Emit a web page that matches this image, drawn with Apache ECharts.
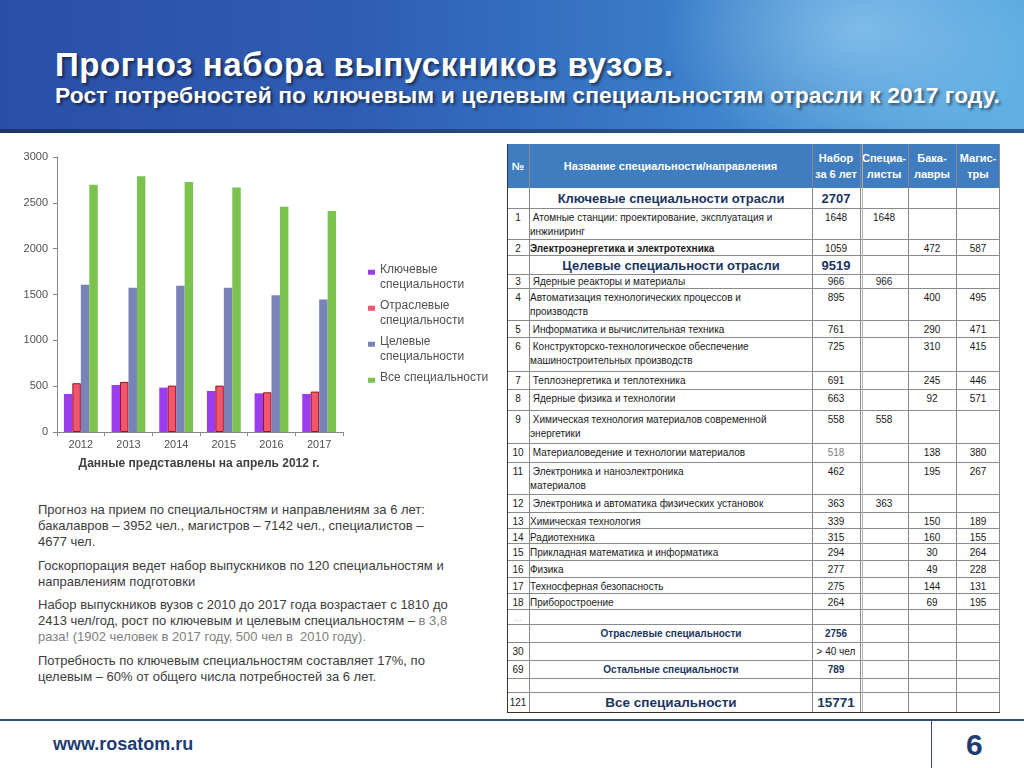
<!DOCTYPE html>
<html><head><meta charset="utf-8">
<script src="https://cdn.jsdelivr.net/npm/echarts@6/dist/echarts.min.js"></script>
<style>
html,body{margin:0;padding:0;width:1024px;height:768px;overflow:hidden;background:#fff;font-family:"Liberation Sans",Arial,sans-serif;}
#header{position:absolute;left:0;top:0;width:1024px;height:133px;
 background:
  radial-gradient(ellipse 260px 170px at 860px 30px, rgba(170,215,245,0.55), rgba(170,215,245,0) 75%),
  radial-gradient(ellipse 200px 160px at 1010px 120px, rgba(120,190,235,0.35), rgba(120,190,235,0) 75%),
  linear-gradient(90deg,#2a4fa6 0%,#2f5db3 35%,#3a7cc8 65%,#4b9ad8 85%,#56a9e0 100%);}
#hbar{position:absolute;left:0;top:129px;width:1024px;height:4px;background:linear-gradient(90deg,#1b3567,#244a80,#2a5a8e);}
#title{position:absolute;left:55px;top:46px;color:#fff;font-weight:bold;font-size:33px;letter-spacing:0.6px;white-space:nowrap;text-shadow:2px 2px 3px rgba(0,0,0,0.55);}
#subtitle{position:absolute;left:55px;top:82px;color:#fff;font-weight:bold;font-size:22.8px;letter-spacing:0.1px;white-space:nowrap;text-shadow:2px 2px 3px rgba(0,0,0,0.55);}
#chart{position:absolute;left:0;top:140px;width:500px;height:340px;}
#notes{position:absolute;left:38px;top:502px;width:430px;font-size:13px;line-height:16px;color:#3c3c3c;}
#notes p{margin:0 0 7.5px 0;white-space:nowrap;}
.grey{color:#808080;}
#tbl{position:absolute;left:0;top:0;}
.row{position:absolute;left:507px;width:493px;border-bottom:1px solid #8a8a8a;box-sizing:border-box;}
.cell{position:absolute;top:0;height:100%;box-sizing:border-box;font-size:10px;line-height:14px;padding-top:2px;color:#1a1a1a;white-space:pre-wrap;overflow:visible;}
.vline{position:absolute;width:1px;background:#8a8a8a;}
#thead{position:absolute;left:507px;top:144px;width:493px;height:44px;background:#3f7dc0;}
.hcell{position:absolute;top:0;height:44px;display:flex;align-items:center;justify-content:center;text-align:center;color:#fff;font-weight:bold;font-size:11px;line-height:16px;}
#footline{position:absolute;left:0;top:719px;width:1024px;height:2px;background:#2f4f72;}
#footv{position:absolute;left:931px;top:720px;width:1px;height:48px;background:#2f4f72;}
#site{position:absolute;left:53px;top:734px;font-size:18px;font-weight:bold;color:#1f3c73;}
#page{position:absolute;left:966px;top:728px;font-size:30px;font-weight:bold;color:#1f3c73;}
</style></head>
<body>
<div id="header"></div><div id="hbar"></div>
<div id="title">Прогноз набора выпускников вузов.</div>
<div id="subtitle">Рост потребностей по ключевым и целевым специальностям отрасли к 2017 году.</div>
<div id="chart"></div>
<div id="notes">
<p>Прогноз на прием по специальностям и направлениям за 6 лет:<br>бакалавров – 3952 чел., магистров – 7142 чел., специалистов –<br>4677 чел.</p>
<p>Госкорпорация ведет набор выпускников по 120 специальностям и<br>направлениям подготовки</p>
<p>Набор выпускников вузов с 2010 до 2017 года возрастает с 1810 до<br>2413 чел/год, рост по ключевым и целевым специальностям – <span class="grey">в 3,8<br>раза! (1902 человек в 2017 году, 500 чел в &nbsp;2010 году).</span></p>
<p>Потребность по ключевым специальностям составляет 17%, по<br>целевым – 60% от общего числа потребностей за 6 лет.</p>
</div>
<div id="tbl"></div>
<div id="footline"></div><div id="footv"></div>
<div id="site">www.rosatom.ru</div>
<div id="page">6</div>
<script>
// ---------- chart data ----------
const years = ['2012', '2013', '2014', '2015', '2016', '2017'];
const keySpec = [415, 513, 484, 448, 422, 415];
const branchSpec = [532, 546, 506, 506, 433, 441];
const targetSpec = [1606, 1573, 1595, 1573, 1493, 1446];
const allSpec = [2698, 2790, 2727, 2666, 2458, 2411];
const seriesNames = ['Ключевые специальности', 'Отраслевые специальности', 'Целевые специальности', 'Все специальности'];
const caption = 'Данные представлены на апрель 2012 г.';

// ---------- table data ----------
const tableHead = ['№', 'Название специальности/направления', 'Набор\nза 6 лет', 'Специа-\nлисты', 'Бака-\nлавры', 'Магис-\nтры'];
const tableKind = ['section', 'item', 'bold', 'section', 'item', 'item', 'item', 'item', 'item', 'item', 'item', 'item', 'item', 'item', 'item', 'item', 'item', 'item', 'item', 'item', 'dots', 'sub', 'item', 'sub', 'item', 'big'];
const tableNo = ['', '1', '2', '', '3', '4', '5', '6', '7', '8', '9', '10', '11', '12', '13', '14', '15', '16', '17', '18', '…', '', '30', '69', '', '121'];
const tableNames = ['Ключевые специальности отрасли', ' Атомные станции: проектирование, эксплуатация и\nинжиниринг', 'Электроэнергетика и электротехника', 'Целевые специальности отрасли', ' Ядерные реакторы и материалы', 'Автоматизация технологических процессов и\nпроизводств', ' Информатика и вычислительная техника', ' Конструкторско-технологическое обеспечение\nмашиностроительных производств', ' Теплоэнергетика и теплотехника', ' Ядерные физика и технологии', ' Химическая технология материалов современной\nэнергетики', ' Материаловедение и технологии материалов', ' Электроника и наноэлектроника\nматериалов', ' Электроника и автоматика физических установок', 'Химическая технология', 'Радиотехника', 'Прикладная математика и информатика', 'Физика', 'Техносферная безопасность', 'Приборостроение', '', 'Отраслевые специальности', '', 'Остальные специальности', '', 'Все специальности'];
const tableTotal = ['2707', '1648', '1059', '9519', '966', '895', '761', '725', '691', '663', '558', '518', '462', '363', '339', '315', '294', '277', '275', '264', '', '2756', '> 40 чел', '789', '', '15771'];
const tableSpec = ['', '1648', '', '', '966', '', '', '', '', '', '558', '', '', '363', '', '', '', '', '', '', '', '', '', '', '', ''];
const tableBak = ['', '', '472', '', '', '400', '290', '310', '245', '92', '', '138', '195', '', '150', '160', '30', '49', '144', '69', '', '', '', '', '', ''];
const tableMag = ['', '', '587', '', '', '495', '471', '415', '446', '571', '', '380', '267', '', '189', '155', '264', '228', '131', '195', '', '', '', '', '', ''];

// ---------- table layout ----------
const colLeft = [0, 22, 305, 353, 401, 449];
const colWidth = [22, 283, 48, 48, 48, 44];
const rowHeight = [21, 31, 16, 19, 14, 32, 17, 34, 18, 21, 33, 19, 32, 18, 16, 15, 17, 17, 16, 16, 15, 18, 18, 18, 14, 20];
const tblLeft = 507, headTop = 144, bodyTop = 188;

(function buildTable(){
  const root = document.getElementById('tbl');
  const head = document.createElement('div'); head.id = 'thead'; root.appendChild(head);
  tableHead.forEach((t, i) => {
    const c = document.createElement('div'); c.className = 'hcell';
    c.style.left = colLeft[i] + 'px'; c.style.width = colWidth[i] + 'px';
    c.innerHTML = t.replace('\n', '<br>');
    head.appendChild(c);
  });
  let y = bodyTop;
  tableNames.forEach((name, r) => {
    const h = rowHeight[r];
    const row = document.createElement('div'); row.className = 'row';
    row.style.top = y + 'px'; row.style.height = h + 'px';
    const kind = tableKind[r];
    const vals = [tableNo[r], name, tableTotal[r], tableSpec[r], tableBak[r], tableMag[r]];
    vals.forEach((v, i) => {
      const c = document.createElement('div'); c.className = 'cell';
      c.style.left = colLeft[i] + 'px'; c.style.width = colWidth[i] + 'px';
      c.textContent = v;
      c.style.textAlign = (i === 1 && (kind === 'item' || kind === 'bold')) ? 'left' : 'center';
      if (i === 1) c.style.paddingLeft = '1px';
      if (h < 15) c.style.paddingTop = '0';
      if (kind === 'section' || kind === 'big') {
        if (i === 1 || i === 2) {
          c.style.fontWeight = 'bold'; c.style.color = '#1c3560';
          c.style.fontSize = kind === 'big' ? '13.5px' : '13px';
          c.style.lineHeight = h + 'px'; c.style.paddingTop = '0';
        }
        if (i === 0) { c.style.lineHeight = h + 'px'; c.style.paddingTop = '0'; }
      } else if (kind === 'sub') {
        if (i === 1 || i === 2) { c.style.fontWeight = 'bold'; c.style.color = '#1c3560'; }
        c.style.lineHeight = h + 'px'; c.style.paddingTop = '0';
      } else if (kind === 'bold' && i === 1) {
        c.style.fontWeight = 'bold';
      } else if (kind === 'dots' && i === 0) {
        c.style.color = '#888'; c.style.fontSize = '8px';
      }
      if (r === 11 && i === 2) c.style.color = '#808080';
      row.appendChild(c);
    });
    root.appendChild(row);
    y += h;
  });
  // vertical grid lines
  const xs = [0, 22, 305, 353, 355, 401, 449, 493];
  xs.forEach(x => {
    const v = document.createElement('div'); v.className = 'vline';
    v.style.left = (tblLeft + x - (x === 493 ? 1 : 0)) + 'px';
    v.style.top = headTop + 'px'; v.style.height = (y - headTop) + 'px';
    if (x === 0) v.style.background = '#333';
    if (x === 355) v.style.background = '#b0b0b0';
    root.appendChild(v);
  });
  const b = document.createElement('div');
  b.style.cssText = 'position:absolute;left:' + tblLeft + 'px;top:' + (y - 1) + 'px;width:493px;height:1px;background:#333;';
  root.appendChild(b);
})();

// ---------- chart ----------
const colors = ['#9b3cf0', '#f0566c', '#7884b8', '#7cc24e'];
const dataSets = [keySpec, branchSpec, targetSpec, allSpec];
const chart = echarts.init(document.getElementById('chart'));
const axisColor = '#868686';
chart.setOption({
  animation: false,
  textStyle: { fontFamily: '"Liberation Sans", Arial, sans-serif' },
  grid: { left: 57, top: 17, width: 286, height: 275, containLabel: false },
  xAxis: {
    type: 'category', data: years,
    axisLine: { show: true, lineStyle: { color: axisColor, width: 1 } },
    axisTick: { show: true, length: 4, lineStyle: { color: axisColor } },
    axisLabel: { color: '#505050', fontSize: 11, margin: 7 },
    splitLine: { show: false }
  },
  yAxis: {
    type: 'value', min: 0, max: 3000, interval: 500,
    axisLine: { show: true, lineStyle: { color: axisColor, width: 1 } },
    axisTick: { show: true, length: 4, lineStyle: { color: axisColor } },
    axisLabel: { color: '#505050', fontSize: 11, margin: 9, formatter: v => String(v) },
    splitLine: { show: false }
  },
  legend: {
    orient: 'vertical', left: 363, top: 117.5,
    itemWidth: 7, itemHeight: 30, itemGap: 6,
    icon: 'path://M0,0L0.01,0L0,0.01Z M0,4L10,4L10,11L0,11Z M9.99,30L10,30L10,29.99Z',
    itemStyle: { borderWidth: 0 },
    textStyle: { color: '#505050', fontSize: 12, lineHeight: 15 },
    formatter: function (name) {
      return name === seriesNames[3] ? name + '\n ' : name.replace(' ', '\n');
    },
    data: seriesNames
  },
  series: seriesNames.map((n, i) => ({
    name: n, type: 'bar', data: dataSets[i],
    barGap: '0%', barCategoryGap: '29%',
    itemStyle: i === 1 ? { color: colors[i], borderColor: '#a0101e', borderWidth: 1 } : { color: colors[i] }
  })),
  graphic: [{
    type: 'text', x: 199, y: 324,
    style: { text: caption, font: 'bold 12px "Liberation Sans", Arial, sans-serif', fill: '#404040', align: 'center', verticalAlign: 'middle' }
  }]
});
</script>
</body></html>
